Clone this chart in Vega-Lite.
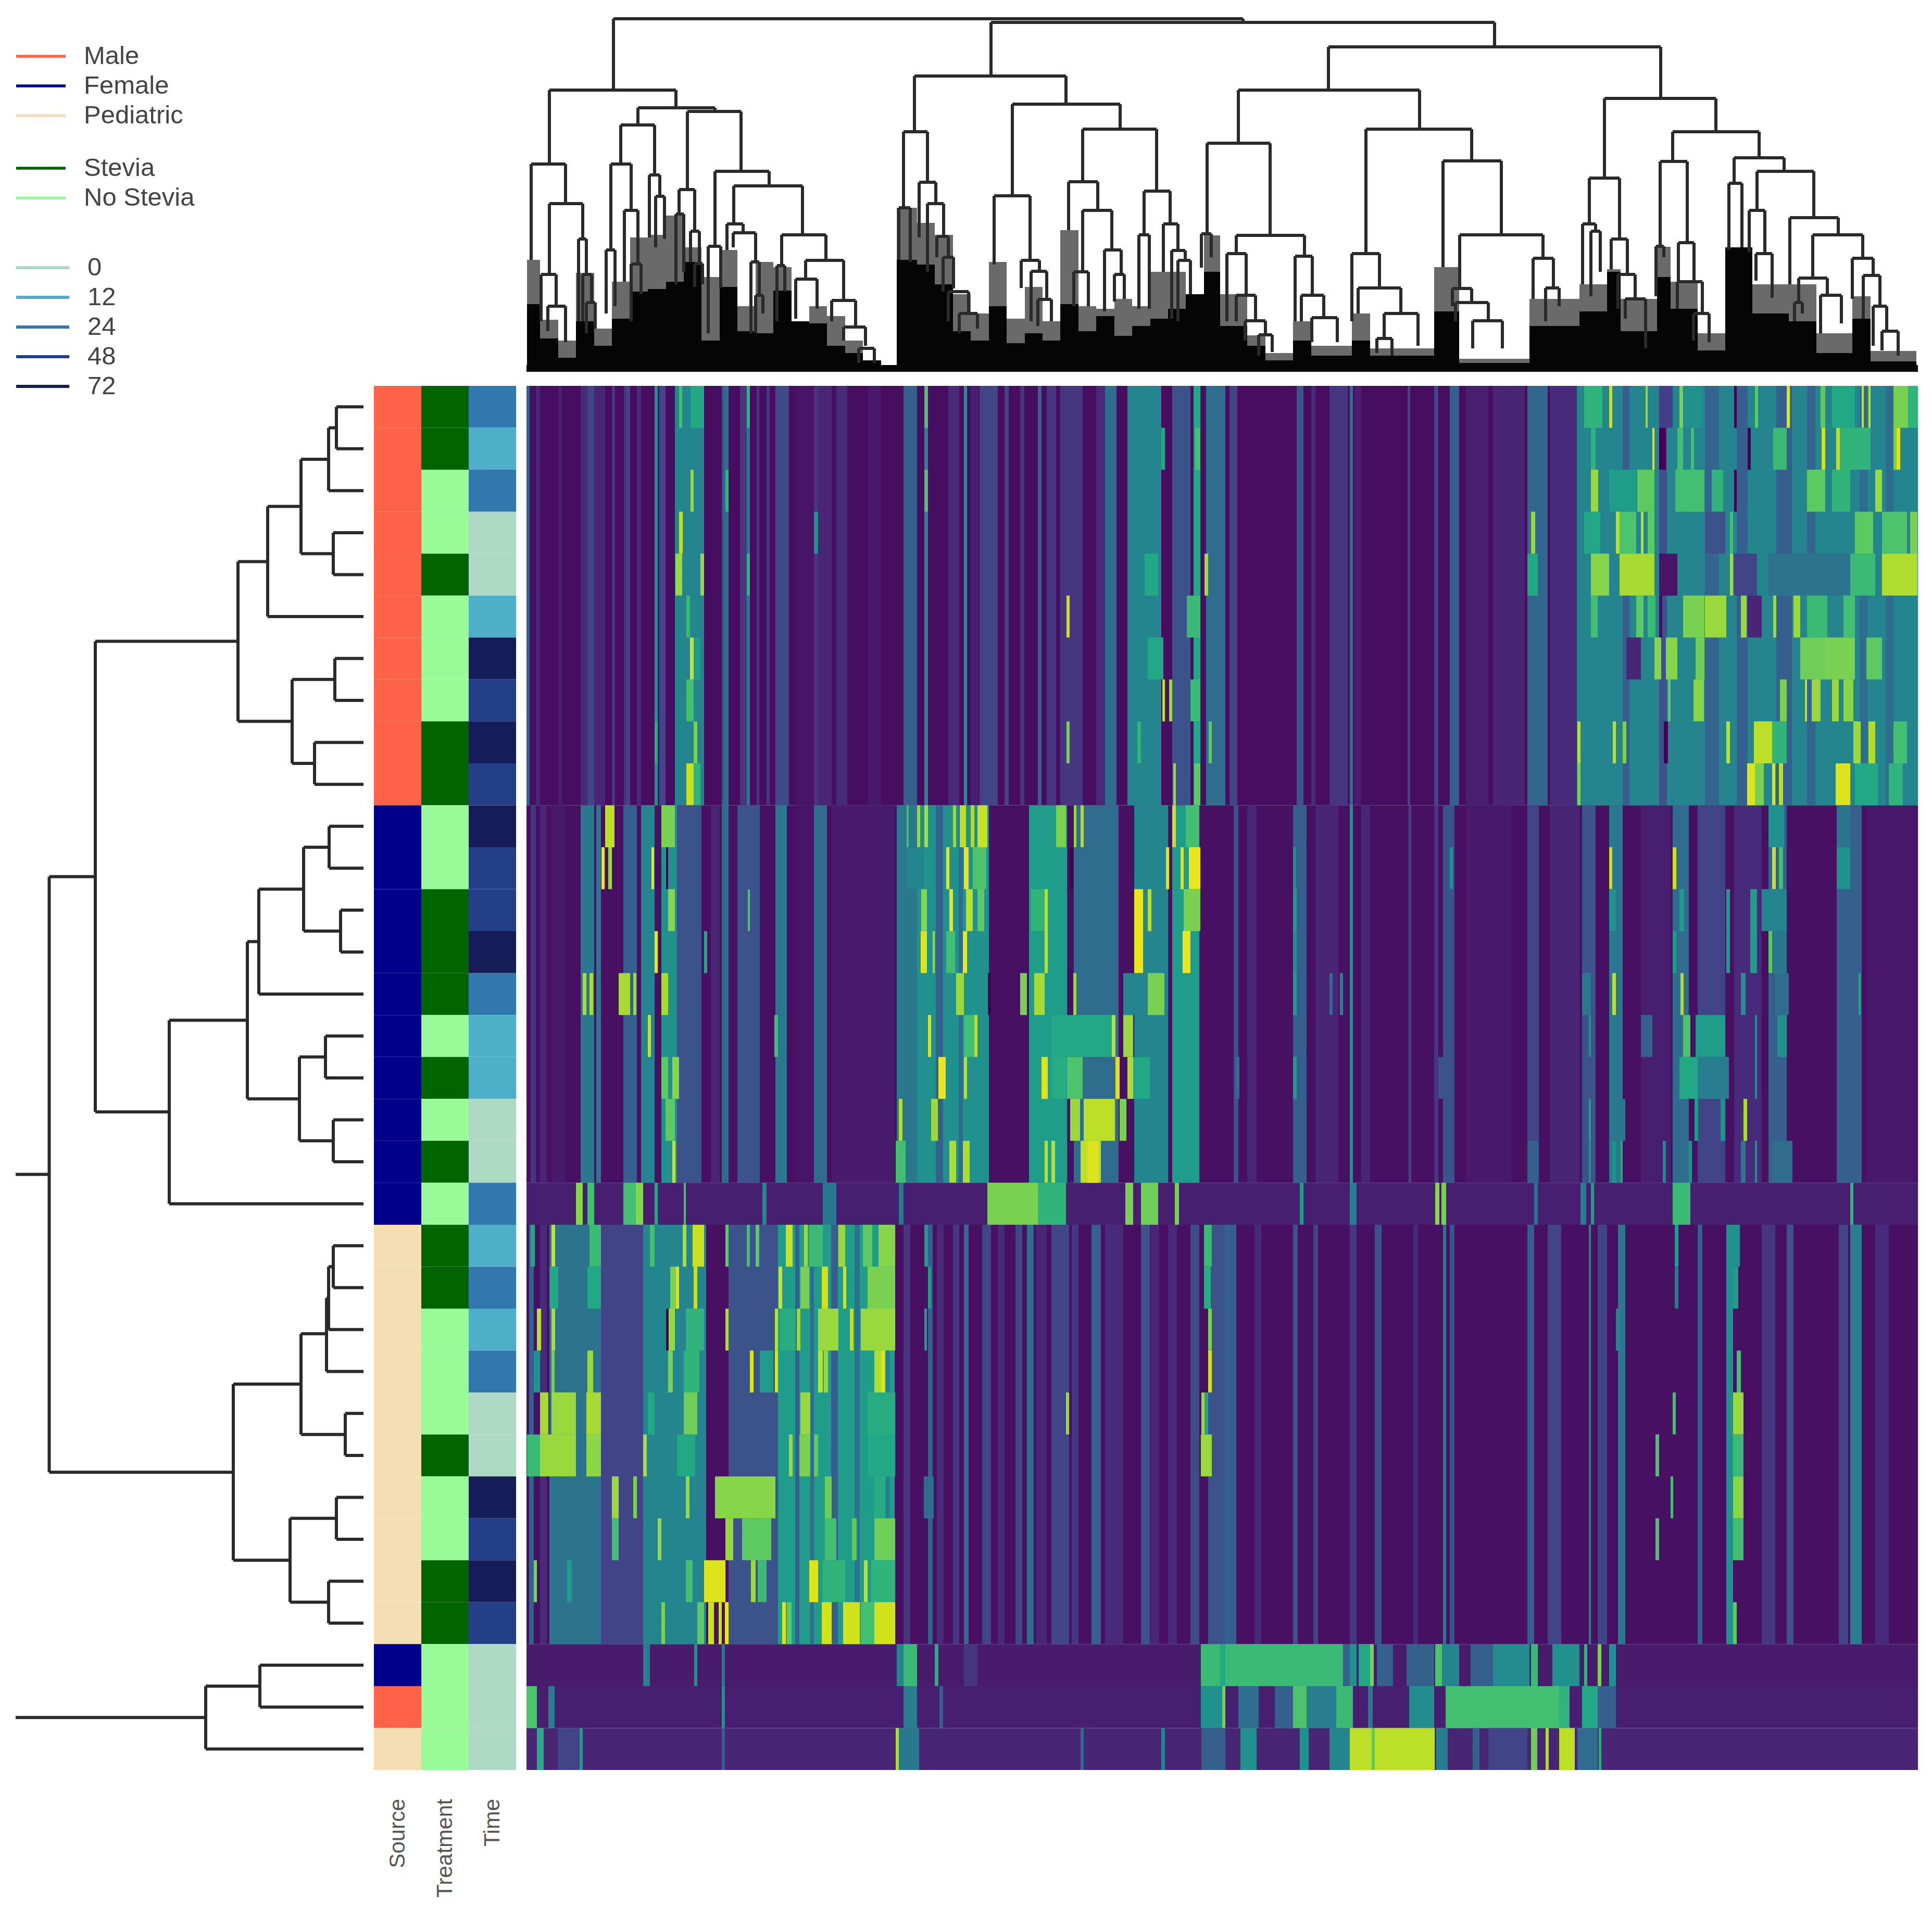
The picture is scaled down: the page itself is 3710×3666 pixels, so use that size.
{"$schema":"https://vega.github.io/schema/vega-lite/v6.json","background":"white","padding":{"left":27,"top":33,"right":0,"bottom":0},"columns":3,"spacing":{"row":27,"column":20},"bounds":"flush","config":{"view":{"stroke":null},"font":"Liberation Sans"},
"datasets":{
"sil":[{"x":1,"e":26,"b":130,"g":215},{"x":26,"e":61,"b":64,"g":100},{"x":61,"e":95,"b":27,"g":60},{"x":95,"e":130,"b":97,"g":190},{"x":130,"e":164,"b":50,"g":83},{"x":164,"e":199,"b":102,"g":173},{"x":199,"e":233,"b":154,"g":258},{"x":233,"e":268,"b":159,"g":263},{"x":268,"e":302,"b":173,"g":300},{"x":302,"e":336,"b":211,"g":239},{"x":336,"e":371,"b":60,"g":182},{"x":371,"e":405,"b":163,"g":234},{"x":405,"e":440,"b":78,"g":126},{"x":440,"e":474,"b":74,"g":211},{"x":474,"e":509,"b":156,"g":201},{"x":509,"e":543,"b":97,"g":97},{"x":543,"e":577,"b":93,"g":126},{"x":577,"e":612,"b":50,"g":107},{"x":612,"e":646,"b":36,"g":60},{"x":646,"e":681,"b":22,"g":22},{"x":681,"e":707,"b":8,"g":8},{"x":711,"e":750,"b":215,"g":315},{"x":750,"e":784,"b":206,"g":286},{"x":784,"e":819,"b":168,"g":263},{"x":819,"e":853,"b":78,"g":149},{"x":853,"e":888,"b":60,"g":112},{"x":888,"e":922,"b":126,"g":211},{"x":922,"e":957,"b":55,"g":102},{"x":957,"e":991,"b":74,"g":163},{"x":991,"e":1025,"b":60,"g":97},{"x":1025,"e":1060,"b":130,"g":272},{"x":1060,"e":1094,"b":78,"g":126},{"x":1094,"e":1129,"b":107,"g":121},{"x":1129,"e":1163,"b":69,"g":140},{"x":1163,"e":1198,"b":88,"g":126},{"x":1198,"e":1232,"b":102,"g":192},{"x":1232,"e":1266,"b":121,"g":192},{"x":1266,"e":1301,"b":149,"g":149},{"x":1301,"e":1332,"b":192,"g":262},{"x":1332,"e":1384,"b":88,"g":149},{"x":1384,"e":1419,"b":50,"g":70},{"x":1419,"e":1472,"b":22,"g":36},{"x":1472,"e":1507,"b":60,"g":97},{"x":1507,"e":1585,"b":31,"g":50},{"x":1585,"e":1620,"b":60,"g":112},{"x":1620,"e":1743,"b":31,"g":45},{"x":1743,"e":1791,"b":116,"g":201},{"x":1791,"e":1926,"b":17,"g":25},{"x":1926,"e":2022,"b":88,"g":140},{"x":2022,"e":2075,"b":116,"g":168},{"x":2075,"e":2101,"b":192,"g":197},{"x":2101,"e":2171,"b":78,"g":140},{"x":2171,"e":2197,"b":182,"g":240},{"x":2197,"e":2249,"b":121,"g":173},{"x":2249,"e":2302,"b":41,"g":74},{"x":2302,"e":2354,"b":239,"g":239},{"x":2354,"e":2424,"b":112,"g":168},{"x":2424,"e":2477,"b":97,"g":168},{"x":2477,"e":2546,"b":36,"g":74},{"x":2546,"e":2581,"b":102,"g":145},{"x":2581,"e":2669,"b":20,"g":40},{"x":0,"e":2672,"b":13,"g":13}],
"top":[{"l":167,"r":1376,"t":678,"a":541,"b":671},{"l":892,"r":1859,"t":671,"a":568,"b":624},{"l":44,"r":287,"t":541,"a":399,"b":507},{"l":9,"r":75,"t":399,"a":215,"b":323},{"l":44,"r":108,"t":323,"a":187,"b":255},{"l":28,"r":57,"t":187,"a":97,"b":126},{"l":41,"r":75,"t":126,"a":78,"b":57},{"l":100,"r":115,"t":255,"a":97,"b":187},{"l":108,"r":125,"t":187,"a":97,"b":133},{"l":115,"r":132,"t":133,"a":74,"b":83},{"l":214,"r":362,"t":507,"a":474,"b":500},{"l":181,"r":246,"t":474,"a":399,"b":378},{"l":162,"r":201,"t":399,"a":234,"b":310},{"l":153,"r":170,"t":234,"a":112,"b":126},{"l":188,"r":214,"t":310,"a":173,"b":207},{"l":201,"r":220,"t":207,"a":97,"b":149},{"l":236,"r":256,"t":378,"a":258,"b":337},{"l":248,"r":265,"t":337,"a":239,"b":255},{"l":309,"r":412,"t":500,"a":350,"b":385},{"l":293,"r":323,"t":350,"a":303,"b":270},{"l":287,"r":302,"t":303,"a":168,"b":192},{"l":315,"r":332,"t":270,"a":211,"b":208},{"l":323,"r":338,"t":208,"a":163,"b":168},{"l":362,"r":466,"t":385,"a":241,"b":357},{"l":349,"r":373,"t":241,"a":74,"b":161},{"l":398,"r":530,"t":357,"a":284,"b":263},{"l":385,"r":416,"t":284,"a":234,"b":267},{"l":397,"r":440,"t":267,"a":239,"b":211},{"l":431,"r":447,"t":211,"a":74,"b":147},{"l":440,"r":454,"t":147,"a":74,"b":112},{"l":490,"r":575,"t":263,"a":204,"b":214},{"l":481,"r":496,"t":204,"a":97,"b":154},{"l":536,"r":609,"t":214,"a":178,"b":140},{"l":517,"r":558,"t":178,"a":102,"b":121},{"l":586,"r":632,"t":137,"a":97,"b":88},{"l":609,"r":651,"t":86,"a":60,"b":50},{"l":638,"r":668,"t":45,"a":17,"b":17},{"l":745,"r":1036,"t":568,"a":461,"b":515},{"l":724,"r":770,"t":461,"a":315,"b":364},{"l":715,"r":737,"t":315,"a":215,"b":211},{"l":754,"r":786,"t":364,"a":258,"b":323},{"l":770,"r":801,"t":323,"a":192,"b":260},{"l":788,"r":810,"t":260,"a":220,"b":220},{"l":800,"r":820,"t":220,"a":154,"b":160},{"l":810,"r":849,"t":154,"a":97,"b":112},{"l":831,"r":866,"t":112,"a":74,"b":83},{"l":933,"r":1140,"t":514,"a":338,"b":466},{"l":898,"r":967,"t":338,"a":206,"b":214},{"l":950,"r":985,"t":214,"a":161,"b":193},{"l":969,"r":999,"t":193,"a":97,"b":139},{"l":982,"r":1008,"t":139,"a":88,"b":97},{"l":1068,"r":1210,"t":466,"a":365,"b":347},{"l":1041,"r":1097,"t":365,"a":272,"b":310},{"l":1068,"r":1124,"t":310,"a":192,"b":234},{"l":1051,"r":1079,"t":192,"a":126,"b":126},{"l":1110,"r":1142,"t":234,"a":116,"b":187},{"l":1129,"r":1148,"t":187,"a":135,"b":140},{"l":1186,"r":1236,"t":347,"a":263,"b":284},{"l":1176,"r":1196,"t":263,"a":121,"b":121},{"l":1223,"r":1251,"t":284,"a":192,"b":234},{"l":1239,"r":1265,"t":233,"a":102,"b":214},{"l":1251,"r":1275,"t":214,"a":97,"b":149},{"l":1540,"r":2178,"t":624,"a":541,"b":525},{"l":1367,"r":1715,"t":541,"a":439,"b":466},{"l":1307,"r":1428,"t":439,"a":265,"b":262},{"l":1296,"r":1315,"t":265,"a":200,"b":220},{"l":1363,"r":1494,"t":262,"a":227,"b":222},{"l":1345,"r":1382,"t":227,"a":97,"b":147},{"l":1363,"r":1400,"t":147,"a":97,"b":98},{"l":1380,"r":1419,"t":98,"a":60,"b":71},{"l":1406,"r":1432,"t":71,"a":31,"b":38},{"l":1476,"r":1509,"t":222,"a":97,"b":147},{"l":1488,"r":1531,"t":147,"a":97,"b":104},{"l":1508,"r":1557,"t":104,"a":57,"b":57},{"l":1612,"r":1815,"t":466,"a":227,"b":405},{"l":1585,"r":1638,"t":227,"a":97,"b":161},{"l":1597,"r":1679,"t":161,"a":112,"b":112},{"l":1647,"r":1712,"t":112,"a":64,"b":50},{"l":1633,"r":1662,"t":64,"a":36,"b":31},{"l":1760,"r":1872,"t":405,"a":201,"b":263},{"l":1792,"r":1952,"t":263,"a":161,"b":218},{"l":1778,"r":1815,"t":160,"a":126,"b":133},{"l":1784,"r":1847,"t":133,"a":97,"b":98},{"l":1817,"r":1874,"t":98,"a":45,"b":45},{"l":1933,"r":1972,"t":218,"a":140,"b":161},{"l":1957,"r":1983,"t":161,"a":97,"b":126},{"l":2070,"r":2284,"t":525,"a":372,"b":461},{"l":2041,"r":2099,"t":372,"a":284,"b":255},{"l":2028,"r":2053,"t":284,"a":168,"b":270},{"l":2044,"r":2062,"t":270,"a":145,"b":192},{"l":2083,"r":2114,"t":255,"a":197,"b":187},{"l":2096,"r":2129,"t":187,"a":121,"b":140},{"l":2110,"r":2149,"t":140,"a":102,"b":45},{"l":2201,"r":2367,"t":461,"a":404,"b":411},{"l":2177,"r":2229,"t":404,"a":241,"b":248},{"l":2169,"r":2184,"t":241,"a":145,"b":220},{"l":2212,"r":2242,"t":248,"a":173,"b":173},{"l":2210,"r":2258,"t":173,"a":121,"b":112},{"l":2241,"r":2271,"t":112,"a":60,"b":57},{"l":2319,"r":2415,"t":411,"a":362,"b":385},{"l":2309,"r":2334,"t":362,"a":234,"b":239},{"l":2363,"r":2472,"t":385,"a":310,"b":297},{"l":2348,"r":2378,"t":310,"a":230,"b":227},{"l":2361,"r":2392,"t":227,"a":175,"b":142},{"l":2426,"r":2519,"t":296,"a":168,"b":263},{"l":2470,"r":2566,"t":263,"a":180,"b":218},{"l":2443,"r":2498,"t":180,"a":133,"b":147},{"l":2435,"r":2450,"t":133,"a":97,"b":112},{"l":2485,"r":2525,"t":147,"a":74,"b":93},{"l":2546,"r":2586,"t":218,"a":140,"b":185},{"l":2567,"r":2599,"t":185,"a":102,"b":126},{"l":2586,"r":2612,"t":126,"a":50,"b":78},{"l":2603,"r":2634,"t":78,"a":41,"b":31}],
"lft":[{"h":52,"y1":0.5,"y2":1.5,"h1":0,"h2":0},{"h":67,"y1":1,"y2":2.5,"h1":52,"h2":0},{"h":58,"y1":3.5,"y2":4.5,"h1":0,"h2":0},{"h":120,"y1":1.75,"y2":4,"h1":67,"h2":58},{"h":184,"y1":2.875,"y2":5.5,"h1":120,"h2":0},{"h":55,"y1":6.5,"y2":7.5,"h1":0,"h2":0},{"h":94,"y1":8.5,"y2":9.5,"h1":0,"h2":0},{"h":137,"y1":7,"y2":9,"h1":55,"h2":94},{"h":241,"y1":4.19,"y2":8,"h1":184,"h2":137},{"h":66,"y1":10.5,"y2":11.5,"h1":0,"h2":0},{"h":44,"y1":12.5,"y2":13.5,"h1":0,"h2":0},{"h":115,"y1":11,"y2":13,"h1":66,"h2":44},{"h":201,"y1":12,"y2":14.5,"h1":115,"h2":0},{"h":73,"y1":15.5,"y2":16.5,"h1":0,"h2":0},{"h":58,"y1":17.5,"y2":18.5,"h1":0,"h2":0},{"h":123,"y1":16,"y2":18,"h1":73,"h2":58},{"h":223,"y1":13.25,"y2":17,"h1":201,"h2":123},{"h":373,"y1":15.125,"y2":19.5,"h1":223,"h2":0},{"h":515,"y1":6.09,"y2":17.31,"h1":241,"h2":373},{"h":58,"y1":20.5,"y2":21.5,"h1":0,"h2":0},{"h":67,"y1":21,"y2":22.5,"h1":58,"h2":0},{"h":71,"y1":21.75,"y2":23.5,"h1":67,"h2":0},{"h":35,"y1":24.5,"y2":25.5,"h1":0,"h2":0},{"h":120,"y1":22.6,"y2":25,"h1":71,"h2":35},{"h":52,"y1":26.5,"y2":27.5,"h1":0,"h2":0},{"h":67,"y1":28.5,"y2":29.5,"h1":0,"h2":0},{"h":141,"y1":27,"y2":29,"h1":52,"h2":67},{"h":250,"y1":23.8,"y2":28,"h1":120,"h2":141},{"h":603.5,"y1":11.7,"y2":25.9,"h1":515,"h2":250},{"h":199,"y1":30.5,"y2":31.5,"h1":0,"h2":0},{"h":303,"y1":31,"y2":32.5,"h1":199,"h2":0},{"h":668,"y1":18.8,"y2":31.75,"h1":603.5,"h2":303}],
"ann":[{"r":0,"s":"Male","t":"Stevia","m":"24"},{"r":1,"s":"Male","t":"Stevia","m":"12"},{"r":2,"s":"Male","t":"No Stevia","m":"24"},{"r":3,"s":"Male","t":"No Stevia","m":"0"},{"r":4,"s":"Male","t":"Stevia","m":"0"},{"r":5,"s":"Male","t":"No Stevia","m":"12"},{"r":6,"s":"Male","t":"No Stevia","m":"72"},{"r":7,"s":"Male","t":"No Stevia","m":"48"},{"r":8,"s":"Male","t":"Stevia","m":"72"},{"r":9,"s":"Male","t":"Stevia","m":"48"},{"r":10,"s":"Female","t":"No Stevia","m":"72"},{"r":11,"s":"Female","t":"No Stevia","m":"48"},{"r":12,"s":"Female","t":"Stevia","m":"48"},{"r":13,"s":"Female","t":"Stevia","m":"72"},{"r":14,"s":"Female","t":"Stevia","m":"24"},{"r":15,"s":"Female","t":"No Stevia","m":"12"},{"r":16,"s":"Female","t":"Stevia","m":"12"},{"r":17,"s":"Female","t":"No Stevia","m":"0"},{"r":18,"s":"Female","t":"Stevia","m":"0"},{"r":19,"s":"Female","t":"No Stevia","m":"24"},{"r":20,"s":"Pediatric","t":"Stevia","m":"12"},{"r":21,"s":"Pediatric","t":"Stevia","m":"24"},{"r":22,"s":"Pediatric","t":"No Stevia","m":"12"},{"r":23,"s":"Pediatric","t":"No Stevia","m":"24"},{"r":24,"s":"Pediatric","t":"No Stevia","m":"0"},{"r":25,"s":"Pediatric","t":"Stevia","m":"0"},{"r":26,"s":"Pediatric","t":"No Stevia","m":"72"},{"r":27,"s":"Pediatric","t":"No Stevia","m":"48"},{"r":28,"s":"Pediatric","t":"Stevia","m":"72"},{"r":29,"s":"Pediatric","t":"Stevia","m":"48"},{"r":30,"s":"Female","t":"No Stevia","m":"0"},{"r":31,"s":"Male","t":"No Stevia","m":"0"},{"r":32,"s":"Pediatric","t":"No Stevia","m":"0"}]
},
"concat":[
{"width":668,"height":678,"data":{"values":[]},"mark":"point"},
{"width":273,"height":678,"data":{"values":[]},"mark":"point"},
{"width":2672,"height":678,"layer":[
{"data":{"name":"sil"},"mark":{"type":"rect","color":"#6a6a6a"},"encoding":{"x":{"field":"x","type":"quantitative","scale":{"domain":[0,2672],"nice":false},"axis":null},"x2":{"field":"e"},"y":{"field":"g","type":"quantitative","scale":{"domain":[0,678],"nice":false},"axis":null},"y2":{"datum":0}}},
{"data":{"name":"sil"},"mark":{"type":"rect","color":"#050505"},"encoding":{"x":{"field":"x","type":"quantitative","scale":{"domain":[0,2672],"nice":false},"axis":null},"x2":{"field":"e"},"y":{"field":"b","type":"quantitative","scale":{"domain":[0,678],"nice":false},"axis":null},"y2":{"datum":0}}},
{"data":{"name":"top"},"mark":{"type":"rule","color":"#2a2a2a","strokeWidth":6},"encoding":{"x":{"field":"l","type":"quantitative","scale":{"domain":[0,2672],"nice":false},"axis":null},"x2":{"field":"r"},"y":{"field":"t","type":"quantitative","scale":{"domain":[0,678],"nice":false},"axis":null}}},
{"data":{"name":"top"},"mark":{"type":"rule","color":"#2a2a2a","strokeWidth":6},"encoding":{"x":{"field":"l","type":"quantitative","scale":{"domain":[0,2672],"nice":false},"axis":null},"y":{"field":"t","type":"quantitative","scale":{"domain":[0,678],"nice":false},"axis":null},"y2":{"field":"a"}}},
{"data":{"name":"top"},"mark":{"type":"rule","color":"#2a2a2a","strokeWidth":6},"encoding":{"x":{"field":"r","type":"quantitative","scale":{"domain":[0,2672],"nice":false},"axis":null},"y":{"field":"t","type":"quantitative","scale":{"domain":[0,678],"nice":false},"axis":null},"y2":{"field":"b"}}}
]},
{"width":668,"height":2658,"data":{"name":"lft"},"layer":[
{"transform":[{"filter":"datum.h<668"}],"mark":{"type":"rule","color":"#2a2a2a","strokeWidth":6},"encoding":{"x":{"field":"h","type":"quantitative","scale":{"domain":[668,0],"nice":false},"axis":null},"y":{"field":"y1","type":"quantitative","scale":{"domain":[33,0],"nice":false},"axis":null},"y2":{"field":"y2"}}},
{"mark":{"type":"rule","color":"#2a2a2a","strokeWidth":6},"encoding":{"x":{"field":"h","type":"quantitative","scale":{"domain":[668,0],"nice":false},"axis":null},"x2":{"field":"h1"},"y":{"field":"y1","type":"quantitative","scale":{"domain":[33,0],"nice":false},"axis":null}}},
{"mark":{"type":"rule","color":"#2a2a2a","strokeWidth":6},"encoding":{"x":{"field":"h","type":"quantitative","scale":{"domain":[668,0],"nice":false},"axis":null},"x2":{"field":"h2"},"y":{"field":"y2","type":"quantitative","scale":{"domain":[33,0],"nice":false},"axis":null}}}
]},
{"width":273,"height":2658,"data":{"name":"ann"},
"encoding":{"y":{"field":"r","type":"ordinal","scale":{"domain":[0,1,2,3,4,5,6,7,8,9,10,11,12,13,14,15,16,17,18,19,20,21,22,23,24,25,26,27,28,29,30,31,32],"paddingInner":0,"paddingOuter":0},"axis":null}},
"layer":[
{"mark":"rect","encoding":{"x":{"datum":"Source","type":"nominal","scale":{"domain":["Source","Treatment","Time"],"paddingInner":0,"paddingOuter":0},"axis":{"title":null,"labelAngle":-90,"labelFontSize":42,"labelColor":"#555","labelPadding":55,"labelLimit":400,"ticks":false,"domain":false,"labelAlign":"right","labelBaseline":"middle"}},"color":{"field":"s","type":"nominal","scale":{"domain":["Male","Female","Pediatric"],"range":["#FF6347","#00008B","#F5DEB3"]},"legend":{"orient":"none","legendX":-688,"legendY":-656,"title":null,"symbolType":"M -1 -0.06 H 1 V 0.06 H -1 Z","symbolSize":9025,"clipHeight":46,"rowPadding":8,"labelFontSize":49,"labelColor":"#444","labelOffset":34,"labelLimit":600,"padding":0}}}},
{"mark":"rect","encoding":{"x":{"datum":"Treatment","type":"nominal"},"color":{"field":"t","type":"nominal","scale":{"domain":["Stevia","No Stevia"],"range":["#006400","#98FB98"]},"legend":{"orient":"none","legendX":-688,"legendY":-441,"title":null,"symbolType":"M -1 -0.06 H 1 V 0.06 H -1 Z","symbolSize":9025,"clipHeight":46,"rowPadding":8,"labelFontSize":49,"labelColor":"#444","labelOffset":34,"labelLimit":600,"padding":0}}}},
{"mark":"rect","encoding":{"x":{"datum":"Time","type":"nominal"},"color":{"field":"m","type":"nominal","scale":{"domain":["0","12","24","48","72"],"range":["#AEDAC5","#50AFC8","#3178AE","#223F88","#141D58"]},"legend":{"orient":"none","legendX":-688,"legendY":-250,"title":null,"symbolType":"M -1 -0.06 H 1 V 0.06 H -1 Z","symbolSize":10404,"clipHeight":46,"rowPadding":8,"labelFontSize":49,"labelColor":"#444","labelOffset":34,"labelLimit":600,"padding":0}}}}
],"resolve":{"scale":{"color":"independent"}}},
{"width":2672,"height":2658,"data":{"values":[
{"r":0,"q":10,"x":0,"e":2672,"v":0.03},{"r":10,"q":19,"x":0,"e":2672,"v":0.04},{"r":19,"q":20,"x":0,"e":2672,"v":0.08},{"r":20,"q":30,"x":0,"e":2672,"v":0.04},{"r":30,"q":31,"x":0,"e":2672,"v":0.07},{"r":31,"q":32,"x":0,"e":2672,"v":0.08},{"r":32,"q":33,"x":0,"e":2672,"v":0.1},
{"r":0,"q":10,"x":18,"e":26,"v":0.1},{"r":0,"q":10,"x":61,"e":68,"v":0.08},{"r":0,"q":10,"x":104,"e":117,"v":0.12},{"r":0,"q":10,"x":130,"e":151,"v":0.1},{"r":0,"q":10,"x":164,"e":170,"v":0.15},{"r":0,"q":10,"x":192,"e":199,"v":0.2},{"r":0,"q":10,"x":212,"e":220,"v":0.12},{"r":0,"q":10,"x":255,"e":267,"v":0.2},{"r":0,"q":10,"x":375,"e":379,"v":0.25},{"r":0,"q":10,"x":410,"e":423,"v":0.15},{"r":0,"q":10,"x":442,"e":447,"v":0.15},{"r":0,"q":10,"x":461,"e":467,"v":0.15},{"r":0,"q":10,"x":517,"e":552,"v":0.05},{"r":0,"q":10,"x":560,"e":586,"v":0.1},{"r":0,"q":10,"x":595,"e":616,"v":0.12},{"r":0,"q":10,"x":655,"e":681,"v":0.06},{"r":0,"q":10,"x":810,"e":831,"v":0.12},{"r":0,"q":10,"x":853,"e":868,"v":0.08},{"r":0,"q":10,"x":918,"e":926,"v":0.2},{"r":0,"q":10,"x":948,"e":956,"v":0.15},{"r":0,"q":10,"x":999,"e":1017,"v":0.15},{"r":0,"q":10,"x":1094,"e":1111,"v":0.12},{"r":0,"q":10,"x":1507,"e":1515,"v":0.12},{"r":0,"q":10,"x":1542,"e":1577,"v":0.15},{"r":0,"q":10,"x":1590,"e":1603,"v":0.08},{"r":0,"q":10,"x":1743,"e":1751,"v":0.2},{"r":0,"q":10,"x":1804,"e":1847,"v":0.08},{"r":0,"q":10,"x":1856,"e":1917,"v":0.1},{"r":0,"q":10,"x":1965,"e":2017,"v":0.12},
{"r":10,"q":19,"x":8,"e":18,"v":0.15},{"r":10,"q":19,"x":26,"e":39,"v":0.1},{"r":10,"q":19,"x":48,"e":74,"v":0.06},{"r":10,"q":19,"x":134,"e":143,"v":0.4},{"r":10,"q":19,"x":354,"e":371,"v":0.1},{"r":10,"q":19,"x":517,"e":552,"v":0.05},{"r":10,"q":19,"x":586,"e":707,"v":0.07},{"r":10,"q":19,"x":1384,"e":1402,"v":0.1},{"r":10,"q":19,"x":1515,"e":1559,"v":0.1},{"r":10,"q":19,"x":1603,"e":1620,"v":0.1},{"r":10,"q":19,"x":1694,"e":1699,"v":0.2},{"r":10,"q":19,"x":1743,"e":1751,"v":0.15},{"r":10,"q":19,"x":1804,"e":1891,"v":0.06},{"r":10,"q":19,"x":1965,"e":2022,"v":0.1},{"r":10,"q":19,"x":2140,"e":2197,"v":0.08},{"r":10,"q":19,"x":2319,"e":2372,"v":0.12},{"r":10,"q":19,"x":2573,"e":2669,"v":0.06},
{"r":20,"q":30,"x":5,"e":14,"v":0.3},{"r":20,"q":30,"x":26,"e":39,"v":0.12},{"r":20,"q":30,"x":724,"e":737,"v":0.15},{"r":20,"q":30,"x":771,"e":780,"v":0.3},{"r":20,"q":30,"x":788,"e":801,"v":0.12},{"r":20,"q":30,"x":819,"e":831,"v":0.15},{"r":20,"q":30,"x":875,"e":892,"v":0.2},{"r":20,"q":30,"x":905,"e":918,"v":0.12},{"r":20,"q":30,"x":939,"e":952,"v":0.2},{"r":20,"q":30,"x":978,"e":999,"v":0.1},{"r":20,"q":30,"x":1047,"e":1060,"v":0.15},{"r":20,"q":30,"x":1111,"e":1146,"v":0.12},{"r":20,"q":30,"x":1198,"e":1215,"v":0.1},{"r":20,"q":30,"x":1232,"e":1249,"v":0.12},{"r":20,"q":30,"x":1275,"e":1292,"v":0.22},{"r":20,"q":30,"x":1309,"e":1342,"v":0.25},{"r":20,"q":30,"x":1341,"e":1363,"v":0.3},{"r":20,"q":30,"x":1398,"e":1411,"v":0.12},{"r":20,"q":30,"x":1472,"e":1481,"v":0.25},{"r":20,"q":30,"x":1511,"e":1520,"v":0.2},{"r":20,"q":30,"x":1581,"e":1594,"v":0.15},{"r":20,"q":30,"x":1629,"e":1642,"v":0.25},{"r":20,"q":30,"x":1703,"e":1712,"v":0.12},{"r":20,"q":30,"x":1773,"e":1782,"v":0.25},{"r":20,"q":30,"x":1961,"e":1987,"v":0.2},{"r":20,"q":30,"x":2057,"e":2075,"v":0.2},{"r":20,"q":30,"x":2249,"e":2258,"v":0.3},{"r":20,"q":30,"x":2372,"e":2398,"v":0.15},{"r":20,"q":30,"x":2420,"e":2433,"v":0.25},{"r":20,"q":30,"x":2520,"e":2538,"v":0.2},{"r":20,"q":30,"x":2590,"e":2616,"v":0.12},
{"r":0,"q":10,"x":0,"e":6,"v":0.3},{"r":0,"q":10,"x":117,"e":130,"v":0.2},{"r":0,"q":10,"x":187,"e":192,"v":0.15},{"r":0,"q":10,"x":246,"e":252,"v":0.5},{"r":0,"q":10,"x":285,"e":341,"v":0.45},{"r":0,"q":10,"x":379,"e":388,"v":0.35},{"r":0,"q":10,"x":423,"e":429,"v":0.4},{"r":0,"q":10,"x":478,"e":504,"v":0.22},{"r":0,"q":10,"x":552,"e":560,"v":0.15},{"r":0,"q":10,"x":724,"e":750,"v":0.3},{"r":0,"q":10,"x":764,"e":771,"v":0.45},{"r":0,"q":10,"x":840,"e":846,"v":0.5},{"r":0,"q":10,"x":870,"e":905,"v":0.2},{"r":0,"q":10,"x":982,"e":989,"v":0.3},{"r":0,"q":10,"x":1025,"e":1068,"v":0.15},{"r":0,"q":10,"x":1111,"e":1133,"v":0.35},{"r":0,"q":10,"x":1154,"e":1219,"v":0.45},{"r":0,"q":10,"x":1240,"e":1275,"v":0.25},{"r":0,"q":10,"x":1281,"e":1294,"v":0.6},{"r":0,"q":10,"x":1305,"e":1342,"v":0.35},{"r":0,"q":10,"x":1350,"e":1365,"v":0.2},{"r":0,"q":10,"x":1479,"e":1492,"v":0.25},{"r":0,"q":10,"x":1581,"e":1587,"v":0.35},{"r":0,"q":10,"x":1692,"e":1697,"v":0.2},{"r":0,"q":10,"x":1773,"e":1791,"v":0.3},{"r":0,"q":10,"x":1922,"e":1961,"v":0.33},{"r":0,"q":10,"x":2017,"e":2672,"v":0.45},{"r":0,"q":10,"x":2105,"e":2118,"v":0.3},{"r":0,"q":10,"x":2175,"e":2190,"v":0.25},{"r":0,"q":10,"x":2263,"e":2290,"v":0.32},{"r":0,"q":10,"x":2324,"e":2345,"v":0.3},{"r":0,"q":10,"x":2400,"e":2430,"v":0.3},{"r":0,"q":10,"x":2459,"e":2475,"v":0.32},{"r":0,"q":10,"x":2560,"e":2575,"v":0.35},{"r":0,"q":10,"x":2610,"e":2625,"v":0.35},
{"r":0,"q":1,"x":293,"e":299,"v":0.7},{"r":0,"q":1,"x":315,"e":341,"v":0.6},{"r":0,"q":1,"x":423,"e":429,"v":0.65},{"r":0,"q":1,"x":764,"e":771,"v":0.72},{"r":1,"q":2,"x":1219,"e":1226,"v":0.6},{"r":1,"q":2,"x":1284,"e":1294,"v":0.7},{"r":2,"q":3,"x":315,"e":321,"v":0.85},{"r":2,"q":3,"x":382,"e":388,"v":0.65},{"r":2,"q":3,"x":764,"e":771,"v":0.72},{"r":3,"q":4,"x":293,"e":300,"v":0.9},{"r":3,"q":4,"x":552,"e":560,"v":0.5},{"r":4,"q":5,"x":286,"e":299,"v":0.85},{"r":4,"q":5,"x":334,"e":341,"v":0.85},{"r":4,"q":5,"x":423,"e":429,"v":0.65},{"r":4,"q":5,"x":1187,"e":1213,"v":0.6},{"r":4,"q":5,"x":1302,"e":1309,"v":0.87},{"r":5,"q":6,"x":307,"e":314,"v":0.68},{"r":5,"q":6,"x":1037,"e":1043,"v":0.92},{"r":5,"q":6,"x":1268,"e":1294,"v":0.68},{"r":6,"q":7,"x":314,"e":321,"v":0.92},{"r":6,"q":7,"x":321,"e":334,"v":0.55},{"r":6,"q":7,"x":1193,"e":1223,"v":0.6},{"r":7,"q":8,"x":307,"e":321,"v":0.7},{"r":7,"q":8,"x":1221,"e":1226,"v":0.9},{"r":7,"q":8,"x":1234,"e":1240,"v":0.85},{"r":7,"q":8,"x":1275,"e":1294,"v":0.68},{"r":8,"q":9,"x":246,"e":252,"v":0.62},{"r":8,"q":9,"x":321,"e":328,"v":0.8},{"r":8,"q":9,"x":1037,"e":1043,"v":0.8},{"r":8,"q":9,"x":1173,"e":1180,"v":0.65},{"r":8,"q":9,"x":1310,"e":1316,"v":0.75},{"r":9,"q":10,"x":307,"e":321,"v":0.92},{"r":9,"q":10,"x":321,"e":334,"v":0.65},{"r":9,"q":10,"x":1242,"e":1247,"v":0.85},{"r":9,"q":10,"x":1282,"e":1294,"v":0.75},
{"r":0,"q":1,"x":2031,"e":2066,"v":0.65},{"r":0,"q":1,"x":2079,"e":2085,"v":0.92},{"r":0,"q":1,"x":2149,"e":2153,"v":0.85},{"r":0,"q":1,"x":2175,"e":2201,"v":0.18},{"r":0,"q":1,"x":2214,"e":2221,"v":0.8},{"r":0,"q":1,"x":2223,"e":2258,"v":0.5},{"r":0,"q":1,"x":2319,"e":2324,"v":0},{"r":0,"q":1,"x":2359,"e":2365,"v":0.75},{"r":0,"q":1,"x":2420,"e":2426,"v":0.95},{"r":0,"q":1,"x":2485,"e":2494,"v":0.75},{"r":0,"q":1,"x":2507,"e":2551,"v":0.6},{"r":0,"q":1,"x":2564,"e":2568,"v":0.92},{"r":0,"q":1,"x":2577,"e":2581,"v":0.9},{"r":0,"q":1,"x":2625,"e":2653,"v":0.8},{"r":0,"q":1,"x":2653,"e":2672,"v":0.65},
{"r":1,"q":2,"x":2044,"e":2053,"v":0.65},{"r":1,"q":2,"x":2162,"e":2166,"v":0.95},{"r":1,"q":2,"x":2175,"e":2188,"v":0},{"r":1,"q":2,"x":2210,"e":2221,"v":0.7},{"r":1,"q":2,"x":2236,"e":2242,"v":0.7},{"r":1,"q":2,"x":2345,"e":2351,"v":0},{"r":1,"q":2,"x":2394,"e":2420,"v":0.68},{"r":1,"q":2,"x":2487,"e":2494,"v":0.93},{"r":1,"q":2,"x":2515,"e":2522,"v":0.9},{"r":1,"q":2,"x":2522,"e":2581,"v":0.65},{"r":1,"q":2,"x":2625,"e":2631,"v":0.8},{"r":1,"q":2,"x":2631,"e":2638,"v":0.95},
{"r":2,"q":3,"x":2044,"e":2058,"v":0.85},{"r":2,"q":3,"x":2079,"e":2131,"v":0.55},{"r":2,"q":3,"x":2133,"e":2166,"v":0.75},{"r":2,"q":3,"x":2206,"e":2262,"v":0.7},{"r":2,"q":3,"x":2276,"e":2298,"v":0.65},{"r":2,"q":3,"x":2319,"e":2324,"v":0},{"r":2,"q":3,"x":2459,"e":2494,"v":0.75},{"r":2,"q":3,"x":2507,"e":2542,"v":0.65},{"r":2,"q":3,"x":2590,"e":2603,"v":0.85},
{"r":3,"q":4,"x":1929,"e":1937,"v":0.85},{"r":3,"q":4,"x":2031,"e":2062,"v":0.6},{"r":3,"q":4,"x":2092,"e":2099,"v":0.9},{"r":3,"q":4,"x":2099,"e":2131,"v":0.72},{"r":3,"q":4,"x":2140,"e":2145,"v":0.9},{"r":3,"q":4,"x":2153,"e":2166,"v":0.75},{"r":3,"q":4,"x":2263,"e":2302,"v":0.25},{"r":3,"q":4,"x":2311,"e":2317,"v":0.7},{"r":3,"q":4,"x":2551,"e":2586,"v":0.75},{"r":3,"q":4,"x":2603,"e":2651,"v":0.72},{"r":3,"q":4,"x":2657,"e":2671,"v":0.8},
{"r":4,"q":5,"x":1922,"e":1942,"v":0.6},{"r":4,"q":5,"x":2044,"e":2079,"v":0.82},{"r":4,"q":5,"x":2099,"e":2166,"v":0.87},{"r":4,"q":5,"x":2175,"e":2210,"v":0.05},{"r":4,"q":5,"x":2311,"e":2317,"v":0.87},{"r":4,"q":5,"x":2319,"e":2363,"v":0.2},{"r":4,"q":5,"x":2385,"e":2542,"v":0.38},{"r":4,"q":5,"x":2542,"e":2590,"v":0.68},{"r":4,"q":5,"x":2603,"e":2671,"v":0.88},
{"r":5,"q":6,"x":2044,"e":2057,"v":0.7},{"r":5,"q":6,"x":2131,"e":2145,"v":0.75},{"r":5,"q":6,"x":2153,"e":2168,"v":0.68},{"r":5,"q":6,"x":2175,"e":2181,"v":0.03},{"r":5,"q":6,"x":2221,"e":2262,"v":0.8},{"r":5,"q":6,"x":2263,"e":2304,"v":0.85},{"r":5,"q":6,"x":2332,"e":2343,"v":0.85},{"r":5,"q":6,"x":2345,"e":2372,"v":0.1},{"r":5,"q":6,"x":2394,"e":2400,"v":0.85},{"r":5,"q":6,"x":2433,"e":2446,"v":0.85},{"r":5,"q":6,"x":2459,"e":2498,"v":0.68},{"r":5,"q":6,"x":2529,"e":2551,"v":0.7},
{"r":6,"q":7,"x":2112,"e":2140,"v":0.1},{"r":6,"q":7,"x":2166,"e":2179,"v":0.82},{"r":6,"q":7,"x":2188,"e":2210,"v":0.82},{"r":6,"q":7,"x":2245,"e":2262,"v":0.78},{"r":6,"q":7,"x":2446,"e":2494,"v":0.78},{"r":6,"q":7,"x":2494,"e":2551,"v":0.8},{"r":6,"q":7,"x":2573,"e":2603,"v":0.75},
{"r":7,"q":8,"x":2192,"e":2197,"v":0.75},{"r":7,"q":8,"x":2241,"e":2261,"v":0.82},{"r":7,"q":8,"x":2407,"e":2420,"v":0.8},{"r":7,"q":8,"x":2455,"e":2459,"v":0.9},{"r":7,"q":8,"x":2468,"e":2485,"v":0.85},{"r":7,"q":8,"x":2507,"e":2520,"v":0.85},{"r":7,"q":8,"x":2529,"e":2548,"v":0.82},
{"r":8,"q":9,"x":2018,"e":2024,"v":0.9},{"r":8,"q":9,"x":2086,"e":2092,"v":0.9},{"r":8,"q":9,"x":2105,"e":2112,"v":0.8},{"r":8,"q":9,"x":2184,"e":2192,"v":0},{"r":8,"q":9,"x":2304,"e":2311,"v":0.9},{"r":8,"q":9,"x":2357,"e":2392,"v":0.9},{"r":8,"q":9,"x":2392,"e":2420,"v":0.65},{"r":8,"q":9,"x":2548,"e":2562,"v":0.85},{"r":8,"q":9,"x":2577,"e":2590,"v":0.88},{"r":8,"q":9,"x":2625,"e":2651,"v":0.7},
{"r":9,"q":10,"x":2018,"e":2024,"v":0.8},{"r":9,"q":10,"x":2344,"e":2359,"v":0.95},{"r":9,"q":10,"x":2359,"e":2376,"v":0.8},{"r":9,"q":10,"x":2392,"e":2398,"v":0.95},{"r":9,"q":10,"x":2405,"e":2413,"v":0.9},{"r":9,"q":10,"x":2514,"e":2542,"v":0.95},{"r":9,"q":10,"x":2551,"e":2595,"v":0.6},{"r":9,"q":10,"x":2616,"e":2643,"v":0.65},
{"r":10,"q":19,"x":104,"e":130,"v":0.4},{"r":10,"q":19,"x":186,"e":212,"v":0.3},{"r":10,"q":19,"x":220,"e":246,"v":0.45},{"r":10,"q":19,"x":259,"e":289,"v":0.5},{"r":10,"q":19,"x":289,"e":336,"v":0.25},{"r":10,"q":19,"x":375,"e":388,"v":0.35},{"r":10,"q":19,"x":405,"e":448,"v":0.25},{"r":10,"q":19,"x":478,"e":500,"v":0.4},{"r":10,"q":19,"x":552,"e":577,"v":0.35},{"r":10,"q":19,"x":711,"e":750,"v":0.4},{"r":10,"q":19,"x":750,"e":888,"v":0.5},{"r":10,"q":19,"x":786,"e":800,"v":0.3},{"r":10,"q":19,"x":830,"e":838,"v":0.35},{"r":10,"q":19,"x":965,"e":1038,"v":0.55},{"r":10,"q":19,"x":1051,"e":1137,"v":0.35},{"r":10,"q":19,"x":1167,"e":1232,"v":0.45},{"r":10,"q":19,"x":1240,"e":1292,"v":0.55},{"r":10,"q":19,"x":1358,"e":1367,"v":0.25},{"r":10,"q":19,"x":1472,"e":1498,"v":0.3},{"r":10,"q":19,"x":1581,"e":1587,"v":0.5},{"r":10,"q":19,"x":1760,"e":1782,"v":0.25},{"r":10,"q":19,"x":1922,"e":1944,"v":0.2},{"r":10,"q":19,"x":2027,"e":2053,"v":0.25},{"r":10,"q":19,"x":2079,"e":2105,"v":0.4},{"r":10,"q":19,"x":2201,"e":2232,"v":0.35},{"r":10,"q":19,"x":2249,"e":2302,"v":0.2},{"r":10,"q":19,"x":2385,"e":2420,"v":0.3},{"r":10,"q":19,"x":2516,"e":2564,"v":0.3},
{"r":10,"q":11,"x":151,"e":169,"v":0.9},{"r":10,"q":11,"x":259,"e":285,"v":0.8},{"r":10,"q":11,"x":730,"e":734,"v":0.7},{"r":10,"q":11,"x":750,"e":756,"v":0.85},{"r":10,"q":11,"x":764,"e":771,"v":0.88},{"r":10,"q":11,"x":819,"e":825,"v":0.85},{"r":10,"q":11,"x":832,"e":844,"v":0.9},{"r":10,"q":11,"x":853,"e":860,"v":0.88},{"r":10,"q":11,"x":866,"e":885,"v":0.92},{"r":10,"q":11,"x":1017,"e":1036,"v":0.8},{"r":10,"q":11,"x":1051,"e":1056,"v":0.85},{"r":10,"q":11,"x":1064,"e":1070,"v":0.88},{"r":10,"q":11,"x":1240,"e":1247,"v":0.92},{"r":10,"q":11,"x":1266,"e":1292,"v":0.7},{"r":10,"q":11,"x":2385,"e":2415,"v":0.5},{"r":10,"q":11,"x":2516,"e":2542,"v":0.38},
{"r":11,"q":12,"x":144,"e":150,"v":0.97},{"r":11,"q":12,"x":157,"e":164,"v":0.85},{"r":11,"q":12,"x":240,"e":245,"v":0.97},{"r":11,"q":12,"x":268,"e":272,"v":0},{"r":11,"q":12,"x":730,"e":763,"v":0.45},{"r":11,"q":12,"x":806,"e":812,"v":0.97},{"r":11,"q":12,"x":840,"e":849,"v":0.97},{"r":11,"q":12,"x":857,"e":883,"v":0.72},{"r":11,"q":12,"x":1043,"e":1050,"v":0},{"r":11,"q":12,"x":1228,"e":1234,"v":0.95},{"r":11,"q":12,"x":1256,"e":1262,"v":0.95},{"r":11,"q":12,"x":1272,"e":1294,"v":0.97},{"r":11,"q":12,"x":1472,"e":1478,"v":0.5},{"r":11,"q":12,"x":1773,"e":1779,"v":0.5},{"r":11,"q":12,"x":2079,"e":2085,"v":0.92},{"r":11,"q":12,"x":2201,"e":2208,"v":0.92},{"r":11,"q":12,"x":2392,"e":2399,"v":0.92},{"r":11,"q":12,"x":2405,"e":2413,"v":0.7},{"r":11,"q":12,"x":2516,"e":2542,"v":0.5},
{"r":12,"q":13,"x":272,"e":285,"v":0.82},{"r":12,"q":13,"x":425,"e":429,"v":0.72},{"r":12,"q":13,"x":758,"e":769,"v":0.82},{"r":12,"q":13,"x":812,"e":819,"v":0.97},{"r":12,"q":13,"x":844,"e":857,"v":0.9},{"r":12,"q":13,"x":866,"e":879,"v":0.75},{"r":12,"q":13,"x":969,"e":995,"v":0.65},{"r":12,"q":13,"x":995,"e":1001,"v":0.9},{"r":12,"q":13,"x":1167,"e":1184,"v":0.97},{"r":12,"q":13,"x":1193,"e":1200,"v":0.9},{"r":12,"q":13,"x":1262,"e":1294,"v":0.8},{"r":12,"q":13,"x":1472,"e":1479,"v":0.55},{"r":12,"q":13,"x":2079,"e":2092,"v":0.5},{"r":12,"q":13,"x":2214,"e":2223,"v":0.55},{"r":12,"q":13,"x":2304,"e":2311,"v":0.55},{"r":12,"q":13,"x":2350,"e":2363,"v":0.55},{"r":12,"q":13,"x":2372,"e":2420,"v":0.45},
{"r":13,"q":14,"x":246,"e":252,"v":0.97},{"r":13,"q":14,"x":341,"e":347,"v":0.6},{"r":13,"q":14,"x":757,"e":769,"v":0.95},{"r":13,"q":14,"x":780,"e":784,"v":0.85},{"r":13,"q":14,"x":806,"e":823,"v":0.7},{"r":13,"q":14,"x":838,"e":846,"v":0.97},{"r":13,"q":14,"x":995,"e":1001,"v":0.9},{"r":13,"q":14,"x":1167,"e":1184,"v":0.97},{"r":13,"q":14,"x":1260,"e":1275,"v":0.97},{"r":13,"q":14,"x":1472,"e":1479,"v":0.5},{"r":13,"q":14,"x":2201,"e":2208,"v":0.55},{"r":13,"q":14,"x":2304,"e":2311,"v":0.55},{"r":13,"q":14,"x":2350,"e":2363,"v":0.55},{"r":13,"q":14,"x":2385,"e":2392,"v":0.75},{"r":13,"q":14,"x":2392,"e":2420,"v":0.4},
{"r":14,"q":15,"x":108,"e":115,"v":0.88},{"r":14,"q":15,"x":121,"e":128,"v":0.88},{"r":14,"q":15,"x":177,"e":199,"v":0.87},{"r":14,"q":15,"x":205,"e":211,"v":0.85},{"r":14,"q":15,"x":259,"e":272,"v":0.87},{"r":14,"q":15,"x":825,"e":840,"v":0.85},{"r":14,"q":15,"x":886,"e":892,"v":0},{"r":14,"q":15,"x":948,"e":961,"v":0.8},{"r":14,"q":15,"x":975,"e":995,"v":0.87},{"r":14,"q":15,"x":1050,"e":1056,"v":0.85},{"r":14,"q":15,"x":1146,"e":1193,"v":0.45},{"r":14,"q":15,"x":1193,"e":1225,"v":0.8},{"r":14,"q":15,"x":1472,"e":1479,"v":0.55},{"r":14,"q":15,"x":1542,"e":1548,"v":0.35},{"r":14,"q":15,"x":1562,"e":1568,"v":0.45},{"r":14,"q":15,"x":2027,"e":2044,"v":0.4},{"r":14,"q":15,"x":2085,"e":2092,"v":0.9},{"r":14,"q":15,"x":2216,"e":2222,"v":0.88},{"r":14,"q":15,"x":2332,"e":2341,"v":0.5},{"r":14,"q":15,"x":2398,"e":2424,"v":0.35},{"r":14,"q":15,"x":2558,"e":2562,"v":0.6},
{"r":15,"q":16,"x":233,"e":239,"v":0.92},{"r":15,"q":16,"x":476,"e":483,"v":0.7},{"r":15,"q":16,"x":771,"e":777,"v":0.95},{"r":15,"q":16,"x":840,"e":866,"v":0.7},{"r":15,"q":16,"x":860,"e":866,"v":0.9},{"r":15,"q":16,"x":1008,"e":1124,"v":0.6},{"r":15,"q":16,"x":1124,"e":1131,"v":0.9},{"r":15,"q":16,"x":1146,"e":1165,"v":0.85},{"r":15,"q":16,"x":2040,"e":2044,"v":0.5},{"r":15,"q":16,"x":2140,"e":2162,"v":0.3},{"r":15,"q":16,"x":2221,"e":2235,"v":0.72},{"r":15,"q":16,"x":2245,"e":2302,"v":0.55},{"r":15,"q":16,"x":2359,"e":2363,"v":0.5},{"r":15,"q":16,"x":2402,"e":2420,"v":0.5},
{"r":16,"q":17,"x":259,"e":272,"v":0.75},{"r":16,"q":17,"x":280,"e":293,"v":0.82},{"r":16,"q":17,"x":791,"e":805,"v":0.97},{"r":16,"q":17,"x":840,"e":846,"v":0.9},{"r":16,"q":17,"x":989,"e":1001,"v":0.95},{"r":16,"q":17,"x":1008,"e":1036,"v":0.62},{"r":16,"q":17,"x":1038,"e":1068,"v":0.72},{"r":16,"q":17,"x":1131,"e":1139,"v":0.95},{"r":16,"q":17,"x":1154,"e":1165,"v":0.88},{"r":16,"q":17,"x":1165,"e":1197,"v":0.6},{"r":16,"q":17,"x":1472,"e":1479,"v":0.55},{"r":16,"q":17,"x":1362,"e":1369,"v":0.35},{"r":16,"q":17,"x":1751,"e":1782,"v":0.25},{"r":16,"q":17,"x":2214,"e":2249,"v":0.6},{"r":16,"q":17,"x":2249,"e":2309,"v":0.42},{"r":16,"q":17,"x":2359,"e":2363,"v":0.5},
{"r":17,"q":18,"x":267,"e":285,"v":0.75},{"r":17,"q":18,"x":715,"e":722,"v":0.88},{"r":17,"q":18,"x":777,"e":790,"v":0.85},{"r":17,"q":18,"x":1044,"e":1063,"v":0.85},{"r":17,"q":18,"x":1070,"e":1130,"v":0.9},{"r":17,"q":18,"x":1139,"e":1152,"v":0.8},{"r":17,"q":18,"x":2040,"e":2044,"v":0.55},{"r":17,"q":18,"x":2079,"e":2110,"v":0.4},{"r":17,"q":18,"x":2243,"e":2250,"v":0.55},{"r":17,"q":18,"x":2293,"e":2302,"v":0.5},{"r":17,"q":18,"x":2337,"e":2344,"v":0.88},{"r":17,"q":18,"x":2385,"e":2420,"v":0.3},
{"r":18,"q":19,"x":280,"e":286,"v":0.92},{"r":18,"q":19,"x":709,"e":728,"v":0.7},{"r":18,"q":19,"x":812,"e":825,"v":0.88},{"r":18,"q":19,"x":838,"e":851,"v":0.88},{"r":18,"q":19,"x":995,"e":1001,"v":0.9},{"r":18,"q":19,"x":1008,"e":1015,"v":0.9},{"r":18,"q":19,"x":1064,"e":1103,"v":0.9},{"r":18,"q":19,"x":1077,"e":1098,"v":0.95},{"r":18,"q":19,"x":1922,"e":1944,"v":0.3},{"r":18,"q":19,"x":2040,"e":2044,"v":0.5},{"r":18,"q":19,"x":2085,"e":2092,"v":0.5},{"r":18,"q":19,"x":2101,"e":2105,"v":0.6},{"r":18,"q":19,"x":2182,"e":2188,"v":0.45},{"r":18,"q":19,"x":2232,"e":2238,"v":0.5},{"r":18,"q":19,"x":2332,"e":2341,"v":0.4},{"r":18,"q":19,"x":2359,"e":2363,"v":0.5},{"r":18,"q":19,"x":2392,"e":2431,"v":0.35},
{"r":19,"q":20,"x":95,"e":108,"v":0.82},{"r":19,"q":20,"x":117,"e":130,"v":0.7},{"r":19,"q":20,"x":186,"e":210,"v":0.7},{"r":19,"q":20,"x":210,"e":224,"v":0.82},{"r":19,"q":20,"x":246,"e":252,"v":0.6},{"r":19,"q":20,"x":302,"e":306,"v":0.7},{"r":19,"q":20,"x":453,"e":461,"v":0.45},{"r":19,"q":20,"x":569,"e":595,"v":0.4},{"r":19,"q":20,"x":715,"e":724,"v":0.4},{"r":19,"q":20,"x":885,"e":982,"v":0.8},{"r":19,"q":20,"x":982,"e":1036,"v":0.65},{"r":19,"q":20,"x":1150,"e":1165,"v":0.8},{"r":19,"q":20,"x":1180,"e":1213,"v":0.78},{"r":19,"q":20,"x":1245,"e":1253,"v":0.8},{"r":19,"q":20,"x":1485,"e":1492,"v":0.55},{"r":19,"q":20,"x":1581,"e":1594,"v":0.42},{"r":19,"q":20,"x":1745,"e":1753,"v":0.82},{"r":19,"q":20,"x":1757,"e":1766,"v":0.8},{"r":19,"q":20,"x":1935,"e":1942,"v":0.35},{"r":19,"q":20,"x":2024,"e":2035,"v":0.42},{"r":19,"q":20,"x":2044,"e":2050,"v":0.55},{"r":19,"q":20,"x":2201,"e":2235,"v":0.68},{"r":19,"q":20,"x":2542,"e":2548,"v":0.65},
{"r":20,"q":30,"x":44,"e":143,"v":0.38},{"r":20,"q":30,"x":143,"e":224,"v":0.2},{"r":20,"q":30,"x":224,"e":345,"v":0.45},{"r":20,"q":30,"x":388,"e":483,"v":0.25},{"r":20,"q":30,"x":483,"e":707,"v":0.55},{"r":20,"q":30,"x":516,"e":524,"v":0.3},{"r":20,"q":30,"x":545,"e":552,"v":0.35},{"r":20,"q":30,"x":585,"e":598,"v":0.3},{"r":20,"q":30,"x":630,"e":640,"v":0.38},{"r":20,"q":30,"x":690,"e":697,"v":0.42},{"r":20,"q":30,"x":840,"e":849,"v":0.35},{"r":20,"q":30,"x":961,"e":974,"v":0.35},{"r":20,"q":30,"x":1008,"e":1042,"v":0.2},{"r":20,"q":30,"x":1085,"e":1103,"v":0.3},{"r":20,"q":30,"x":1180,"e":1197,"v":0.25},{"r":20,"q":30,"x":1760,"e":1766,"v":0.4},{"r":20,"q":30,"x":1922,"e":1935,"v":0.3},{"r":20,"q":30,"x":2040,"e":2044,"v":0.45},{"r":20,"q":30,"x":2096,"e":2110,"v":0.4},{"r":20,"q":30,"x":2304,"e":2317,"v":0.5},{"r":20,"q":30,"x":2542,"e":2564,"v":0.42},
{"r":20,"q":21,"x":8,"e":16,"v":0.6},{"r":20,"q":21,"x":48,"e":55,"v":0.92},{"r":20,"q":21,"x":121,"e":143,"v":0.68},{"r":20,"q":21,"x":237,"e":246,"v":0.7},{"r":20,"q":21,"x":300,"e":307,"v":0.88},{"r":20,"q":21,"x":319,"e":341,"v":0.92},{"r":20,"q":21,"x":382,"e":388,"v":0.75},{"r":20,"q":21,"x":423,"e":429,"v":0.7},{"r":20,"q":21,"x":440,"e":447,"v":0.75},{"r":20,"q":21,"x":498,"e":511,"v":0.92},{"r":20,"q":21,"x":533,"e":540,"v":0.85},{"r":20,"q":21,"x":543,"e":569,"v":0.68},{"r":20,"q":21,"x":599,"e":612,"v":0.85},{"r":20,"q":21,"x":646,"e":664,"v":0.75},{"r":20,"q":21,"x":676,"e":708,"v":0.82},{"r":20,"q":21,"x":764,"e":771,"v":0.55},{"r":20,"q":21,"x":1301,"e":1316,"v":0.68},{"r":20,"q":21,"x":2205,"e":2212,"v":0.55},{"r":20,"q":21,"x":2317,"e":2330,"v":0.5},
{"r":21,"q":22,"x":44,"e":61,"v":0.6},{"r":21,"q":22,"x":117,"e":143,"v":0.6},{"r":21,"q":22,"x":276,"e":293,"v":0.8},{"r":21,"q":22,"x":287,"e":293,"v":0.95},{"r":21,"q":22,"x":321,"e":328,"v":0.92},{"r":21,"q":22,"x":484,"e":491,"v":0.93},{"r":21,"q":22,"x":526,"e":543,"v":0.8},{"r":21,"q":22,"x":567,"e":579,"v":0.93},{"r":21,"q":22,"x":608,"e":614,"v":0.93},{"r":21,"q":22,"x":655,"e":708,"v":0.8},{"r":21,"q":22,"x":771,"e":777,"v":0.55},{"r":21,"q":22,"x":1301,"e":1314,"v":0.62},{"r":21,"q":22,"x":2205,"e":2212,"v":0.4},{"r":21,"q":22,"x":2317,"e":2327,"v":0.55},
{"r":22,"q":23,"x":20,"e":28,"v":0.9},{"r":22,"q":23,"x":48,"e":55,"v":0.88},{"r":22,"q":23,"x":268,"e":273,"v":0},{"r":22,"q":23,"x":273,"e":285,"v":0.85},{"r":22,"q":23,"x":306,"e":341,"v":0.65},{"r":22,"q":23,"x":382,"e":388,"v":0.88},{"r":22,"q":23,"x":477,"e":483,"v":0.9},{"r":22,"q":23,"x":487,"e":517,"v":0.62},{"r":22,"q":23,"x":519,"e":526,"v":0.85},{"r":22,"q":23,"x":560,"e":599,"v":0.85},{"r":22,"q":23,"x":621,"e":628,"v":0.9},{"r":22,"q":23,"x":642,"e":708,"v":0.85},{"r":22,"q":23,"x":764,"e":769,"v":0.55},{"r":22,"q":23,"x":1309,"e":1316,"v":0.8},{"r":22,"q":23,"x":2092,"e":2100,"v":0.45},
{"r":23,"q":24,"x":14,"e":26,"v":0.5},{"r":23,"q":24,"x":48,"e":54,"v":0.8},{"r":23,"q":24,"x":117,"e":128,"v":0.85},{"r":23,"q":24,"x":272,"e":281,"v":0.8},{"r":23,"q":24,"x":302,"e":332,"v":0.65},{"r":23,"q":24,"x":429,"e":436,"v":0.95},{"r":23,"q":24,"x":448,"e":474,"v":0.55},{"r":23,"q":24,"x":477,"e":483,"v":0.95},{"r":23,"q":24,"x":560,"e":569,"v":0.9},{"r":23,"q":24,"x":571,"e":579,"v":0.85},{"r":23,"q":24,"x":668,"e":689,"v":0.88},{"r":23,"q":24,"x":681,"e":688,"v":0.95},{"r":23,"q":24,"x":1309,"e":1316,"v":0.93},{"r":23,"q":24,"x":2324,"e":2332,"v":0.7},
{"r":24,"q":25,"x":26,"e":42,"v":0.87},{"r":24,"q":25,"x":48,"e":95,"v":0.85},{"r":24,"q":25,"x":115,"e":143,"v":0.87},{"r":24,"q":25,"x":233,"e":246,"v":0.6},{"r":24,"q":25,"x":302,"e":328,"v":0.78},{"r":24,"q":25,"x":526,"e":545,"v":0.85},{"r":24,"q":25,"x":655,"e":708,"v":0.62},{"r":24,"q":25,"x":1036,"e":1042,"v":0.85},{"r":24,"q":25,"x":1296,"e":1302,"v":0.85},{"r":24,"q":25,"x":1302,"e":1309,"v":0.6},{"r":24,"q":25,"x":2201,"e":2207,"v":0.7},{"r":24,"q":25,"x":2317,"e":2337,"v":0.85},
{"r":25,"q":26,"x":1,"e":26,"v":0.68},{"r":25,"q":26,"x":26,"e":95,"v":0.85},{"r":25,"q":26,"x":115,"e":143,"v":0.83},{"r":25,"q":26,"x":224,"e":231,"v":0.88},{"r":25,"q":26,"x":289,"e":324,"v":0.6},{"r":25,"q":26,"x":504,"e":511,"v":0.85},{"r":25,"q":26,"x":524,"e":545,"v":0.8},{"r":25,"q":26,"x":552,"e":560,"v":0.75},{"r":25,"q":26,"x":655,"e":708,"v":0.6},{"r":25,"q":26,"x":1295,"e":1316,"v":0.85},{"r":25,"q":26,"x":2168,"e":2175,"v":0.72},{"r":25,"q":26,"x":2317,"e":2337,"v":0.68},
{"r":26,"q":27,"x":164,"e":177,"v":0.85},{"r":26,"q":27,"x":205,"e":212,"v":0.8},{"r":26,"q":27,"x":306,"e":313,"v":0.85},{"r":26,"q":27,"x":362,"e":478,"v":0.82},{"r":26,"q":27,"x":573,"e":586,"v":0.78},{"r":26,"q":27,"x":668,"e":689,"v":0.62},{"r":26,"q":27,"x":763,"e":782,"v":0.35},{"r":26,"q":27,"x":2197,"e":2202,"v":0.7},{"r":26,"q":27,"x":2317,"e":2337,"v":0.82},
{"r":27,"q":28,"x":164,"e":177,"v":0.7},{"r":27,"q":28,"x":252,"e":259,"v":0.85},{"r":27,"q":28,"x":382,"e":397,"v":0.85},{"r":27,"q":28,"x":414,"e":470,"v":0.75},{"r":27,"q":28,"x":573,"e":595,"v":0.7},{"r":27,"q":28,"x":625,"e":634,"v":0.75},{"r":27,"q":28,"x":668,"e":708,"v":0.78},{"r":27,"q":28,"x":2168,"e":2175,"v":0.72},{"r":27,"q":28,"x":2317,"e":2337,"v":0.7},
{"r":28,"q":29,"x":14,"e":20,"v":0.8},{"r":28,"q":29,"x":78,"e":87,"v":0.55},{"r":28,"q":29,"x":306,"e":319,"v":0.7},{"r":28,"q":29,"x":341,"e":382,"v":0.95},{"r":28,"q":29,"x":431,"e":440,"v":0.85},{"r":28,"q":29,"x":444,"e":461,"v":0.68},{"r":28,"q":29,"x":543,"e":560,"v":0.95},{"r":28,"q":29,"x":569,"e":612,"v":0.65},{"r":28,"q":29,"x":648,"e":655,"v":0.9},{"r":28,"q":29,"x":662,"e":708,"v":0.65},
{"r":29,"q":30,"x":259,"e":266,"v":0.8},{"r":29,"q":30,"x":328,"e":341,"v":0.75},{"r":29,"q":30,"x":349,"e":360,"v":0.92},{"r":29,"q":30,"x":369,"e":375,"v":0.92},{"r":29,"q":30,"x":381,"e":388,"v":0.97},{"r":29,"q":30,"x":491,"e":498,"v":0.95},{"r":29,"q":30,"x":500,"e":509,"v":0.75},{"r":29,"q":30,"x":567,"e":586,"v":0.93},{"r":29,"q":30,"x":608,"e":640,"v":0.93},{"r":29,"q":30,"x":642,"e":668,"v":0.7},{"r":29,"q":30,"x":668,"e":708,"v":0.93},{"r":29,"q":30,"x":2317,"e":2324,"v":0.75},
{"r":30,"q":31,"x":224,"e":237,"v":0.42},{"r":30,"q":31,"x":322,"e":328,"v":0.5},{"r":30,"q":31,"x":375,"e":381,"v":0.4},{"r":30,"q":31,"x":711,"e":724,"v":0.45},{"r":30,"q":31,"x":724,"e":750,"v":0.68},{"r":30,"q":31,"x":784,"e":791,"v":0.62},{"r":30,"q":31,"x":840,"e":866,"v":0.15},{"r":30,"q":31,"x":1295,"e":1342,"v":0.68},{"r":30,"q":31,"x":1332,"e":1342,"v":0.6},{"r":30,"q":31,"x":1342,"e":1568,"v":0.68},{"r":30,"q":31,"x":1568,"e":1581,"v":0.3},{"r":30,"q":31,"x":1581,"e":1594,"v":0.5},{"r":30,"q":31,"x":1598,"e":1620,"v":0.6},{"r":30,"q":31,"x":1620,"e":1627,"v":0.8},{"r":30,"q":31,"x":1633,"e":1664,"v":0.3},{"r":30,"q":31,"x":1690,"e":1743,"v":0.3},{"r":30,"q":31,"x":1745,"e":1758,"v":0.72},{"r":30,"q":31,"x":1758,"e":1791,"v":0.45},{"r":30,"q":31,"x":1813,"e":1856,"v":0.3},{"r":30,"q":31,"x":1856,"e":1926,"v":0.48},{"r":30,"q":31,"x":1929,"e":1942,"v":0.68},{"r":30,"q":31,"x":1970,"e":2022,"v":0.5},{"r":30,"q":31,"x":2031,"e":2037,"v":0.65},{"r":30,"q":31,"x":2057,"e":2064,"v":0.8},{"r":30,"q":31,"x":2079,"e":2092,"v":0.5},
{"r":31,"q":32,"x":0,"e":20,"v":0.72},{"r":31,"q":32,"x":42,"e":54,"v":0.42},{"r":31,"q":32,"x":375,"e":381,"v":0.5},{"r":31,"q":32,"x":724,"e":750,"v":0.42},{"r":31,"q":32,"x":793,"e":800,"v":0.3},{"r":31,"q":32,"x":1295,"e":1342,"v":0.5},{"r":31,"q":32,"x":1336,"e":1342,"v":0.8},{"r":31,"q":32,"x":1367,"e":1406,"v":0.35},{"r":31,"q":32,"x":1437,"e":1472,"v":0.3},{"r":31,"q":32,"x":1472,"e":1498,"v":0.72},{"r":31,"q":32,"x":1498,"e":1555,"v":0.42},{"r":31,"q":32,"x":1555,"e":1587,"v":0.68},{"r":31,"q":32,"x":1616,"e":1625,"v":0.4},{"r":31,"q":32,"x":1695,"e":1743,"v":0.48},{"r":31,"q":32,"x":1765,"e":1983,"v":0.7},{"r":31,"q":32,"x":1983,"e":2003,"v":0.65},{"r":31,"q":32,"x":2027,"e":2057,"v":0.6},{"r":31,"q":32,"x":2057,"e":2092,"v":0.3},
{"r":32,"q":33,"x":20,"e":33,"v":0.62},{"r":32,"q":33,"x":60,"e":104,"v":0.2},{"r":32,"q":33,"x":102,"e":108,"v":0.55},{"r":32,"q":33,"x":375,"e":381,"v":0.3},{"r":32,"q":33,"x":709,"e":715,"v":0.88},{"r":32,"q":33,"x":715,"e":754,"v":0.4},{"r":32,"q":33,"x":1064,"e":1070,"v":0.35},{"r":32,"q":33,"x":1219,"e":1226,"v":0.45},{"r":32,"q":33,"x":1296,"e":1342,"v":0.3},{"r":32,"q":33,"x":1371,"e":1402,"v":0.5},{"r":32,"q":33,"x":1485,"e":1502,"v":0.5},{"r":32,"q":33,"x":1542,"e":1581,"v":0.45},{"r":32,"q":33,"x":1581,"e":1744,"v":0.9},{"r":32,"q":33,"x":1623,"e":1629,"v":0.75},{"r":32,"q":33,"x":1747,"e":1769,"v":0.42},{"r":32,"q":33,"x":1817,"e":1830,"v":0.3},{"r":32,"q":33,"x":1847,"e":1922,"v":0.2},{"r":32,"q":33,"x":1929,"e":1941,"v":0.78},{"r":32,"q":33,"x":1957,"e":1963,"v":0.88},{"r":32,"q":33,"x":1983,"e":2013,"v":0.9},{"r":32,"q":33,"x":2018,"e":2057,"v":0.35},{"r":32,"q":33,"x":2059,"e":2064,"v":0.62}
]},"mark":"rect","encoding":{"x":{"field":"x","type":"quantitative","scale":{"domain":[0,2672]},"axis":null},"x2":{"field":"e"},"y":{"field":"r","type":"quantitative","scale":{"domain":[33,0]},"axis":null},"y2":{"field":"q"},"color":{"field":"v","type":"quantitative","scale":{"scheme":"viridis","domain":[0,1]},"legend":null}}}
]}
